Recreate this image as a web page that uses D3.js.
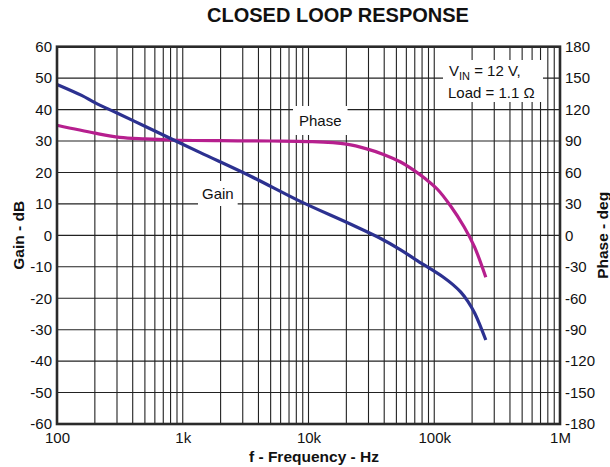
<!DOCTYPE html>
<html>
<head>
<meta charset="utf-8">
<script src="https://cdn.jsdelivr.net/npm/d3@7"></script>
<style>
  html, body { margin: 0; padding: 0; background: #fff; }
  svg text { font-family: "Liberation Sans", Arial, sans-serif; fill: #111; }
</style>
</head>
<body>
<svg id="chart" width="610" height="467"></svg>
<script>
// Frequency sweep (Hz) and measured closed-loop response
const gainFreq = [100, 157, 200, 300, 500, 800, 1380, 3470, 8600, 21500, 37500, 54000, 71000, 100000, 119000, 140000, 162000, 185000, 210000, 257000];
const gainDb   = [48, 44.5, 42.2, 38.9, 34.7, 30.8, 26.3, 18.8, 10.8, 3.6, -1.0, -4.6, -7.7, -11.4, -13.4, -15.6, -18.0, -21.0, -24.8, -33.3];

const phaseFreq = [100, 200, 316, 500, 800, 2000, 5000, 10000, 20000, 30000, 40000, 54000, 69000, 85000, 106000, 135000, 173000, 209000, 257000];
const phaseDeg  = [105, 97.5, 93.5, 92, 91, 90.3, 90, 89.5, 87, 82, 77, 70, 62, 54, 44, 28, 8, -11, -40];

// Axis ticks
const freqTicks = [100, 1e3, 1e4, 1e5, 1e6];
const freqTickLabels = ["100", "1k", "10k", "100k", "1M"];
const gainTicks = [60, 50, 40, 30, 20, 10, 0, -10, -20, -30, -40, -50, -60];
const phaseTicks = [180, 150, 120, 90, 60, 30, 0, -30, -60, -90, -120, -150, -180];

const svg = d3.select("#chart");
const plotL = 57, plotR = 560, plotT = 46.7, plotB = 424;

const x = d3.scaleLog().domain([100, 1e6]).range([plotL, plotR]);
const yGain = d3.scaleLinear().domain([-60, 60]).range([plotB, plotT]);
const yPhase = d3.scaleLinear().domain([-180, 180]).range([plotB, plotT]);

// Grid: every 1..9 multiple of each decade, and every 10 dB
const minor = [];
for (let d = 100; d < 1e6; d *= 10) for (let k = 1; k <= 9; k++) minor.push(d * k);
const grid = svg.append("g").attr("stroke", "#222").attr("stroke-width", 1.1);
grid.selectAll("line.v").data(minor.filter(f => f > 100)).join("line")
  .attr("x1", d => x(d)).attr("x2", d => x(d)).attr("y1", plotT).attr("y2", plotB);
grid.selectAll("line.h").data(gainTicks.slice(1, -1)).join("line")
  .attr("x1", plotL).attr("x2", plotR).attr("y1", d => yGain(d)).attr("y2", d => yGain(d));

// Curves
const line = (xs, ys, yScale) => d3.line()
  .x(d => x(d[0])).y(d => yScale(d[1])).curve(d3.curveCatmullRom.alpha(0.5))(d3.zip(xs, ys));

svg.append("path").attr("d", line(phaseFreq, phaseDeg, yPhase))
  .attr("fill", "none").attr("stroke", "#b61f8e").attr("stroke-width", 3.2);
svg.append("path").attr("d", line(gainFreq, gainDb, yGain))
  .attr("fill", "none").attr("stroke", "#2c3190").attr("stroke-width", 3.2);

// Frame
svg.append("rect").attr("x", plotL).attr("y", plotT).attr("width", plotR - plotL).attr("height", plotB - plotT)
  .attr("fill", "none").attr("stroke", "#2a2a2a").attr("stroke-width", 2.6);

// Axes (labels only; the frame is drawn above). Plain hyphen for negatives.
const plain = d => String(d);
const fmtX = d3.scaleOrdinal().domain(freqTicks).range(freqTickLabels);
const axB = svg.append("g").attr("transform", `translate(0,${plotB})`)
  .call(d3.axisBottom(x).tickValues(freqTicks).tickFormat(fmtX).tickSize(0).tickPadding(8));
const axL = svg.append("g").attr("transform", `translate(${plotL},0)`)
  .call(d3.axisLeft(yGain).tickValues(gainTicks).tickFormat(plain).tickSize(0).tickPadding(5));
const axR = svg.append("g").attr("transform", `translate(${plotR},0)`)
  .call(d3.axisRight(yPhase).tickValues(phaseTicks).tickFormat(plain).tickSize(0).tickPadding(5));
[axB, axL, axR].forEach(a => {
  a.select(".domain").remove();
  a.selectAll("text").attr("font-size", 15).attr("fill", "#111")
    .style("font-family", "'Liberation Sans', Arial, sans-serif");
});

// Titles
svg.append("text").attr("x", 338).attr("y", 22).attr("text-anchor", "middle")
  .attr("font-size", 20).attr("font-weight", "bold").text("CLOSED LOOP RESPONSE");
svg.append("text").attr("x", 314).attr("y", 462).attr("text-anchor", "middle")
  .attr("font-size", 15.5).attr("font-weight", "bold").text("f - Frequency - Hz");
svg.append("text").attr("transform", `translate(24,${(plotT + plotB) / 2}) rotate(-90)`)
  .attr("text-anchor", "middle").attr("font-size", 15.5).attr("font-weight", "bold").text("Gain - dB");
svg.append("text").attr("transform", `translate(608,${(plotT + plotB) / 2}) rotate(-90)`)
  .attr("text-anchor", "middle").attr("font-size", 15.5).attr("font-weight", "bold").text("Phase - deg");

// Curve labels on white patches
function tag(tx, ty, str, pad) {
  const t = svg.append("text").attr("x", tx).attr("y", ty).attr("font-size", 15).text(str);
  const b = t.node().getBBox();
  svg.insert("rect", () => t.node())
    .attr("x", b.x - pad).attr("y", b.y - pad).attr("width", b.width + 2 * pad).attr("height", b.height + 2 * pad)
    .attr("fill", "#fff");
}
tag(299, 126, "Phase", 6);
tag(202, 199, "Gain", 4);

// Operating conditions
svg.append("rect").attr("x", 443).attr("y", 60).attr("width", 100).attr("height", 42).attr("fill", "#fff");
const c1 = svg.append("text").attr("x", 449).attr("y", 76).attr("font-size", 15);
c1.append("tspan").text("V");
c1.append("tspan").attr("font-size", 11).attr("dy", 4).text("IN");
c1.append("tspan").attr("dy", -4).text(" = 12 V,");
svg.append("text").attr("x", 448).attr("y", 98).attr("font-size", 15).text("Load = 1.1 Ω");
</script>
</body>
</html>
